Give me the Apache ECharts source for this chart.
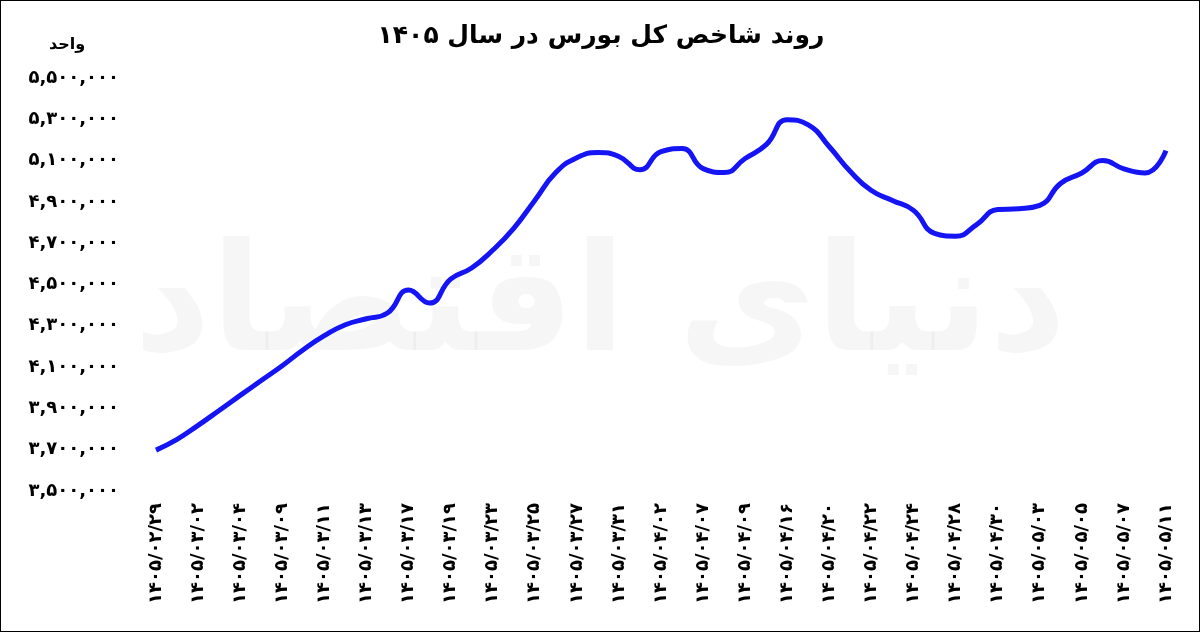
<!DOCTYPE html>
<html><head><meta charset="utf-8">
<script src="https://cdn.jsdelivr.net/npm/echarts@6/dist/echarts.min.js"></script>
<style>html,body{margin:0;padding:0;background:#fff}#c{width:1200px;height:632px;box-sizing:border-box;border:1px solid #000}</style>
</head><body><div id="c"></div>
<script>
const dateLabels = ['1405/02/29','1405/03/02','1405/03/04','1405/03/09','1405/03/11','1405/03/13','1405/03/17','1405/03/19','1405/03/23','1405/03/25','1405/03/27','1405/03/31','1405/04/02','1405/04/07','1405/04/09','1405/04/16','1405/04/20','1405/04/22','1405/04/24','1405/04/28','1405/04/30','1405/05/03','1405/05/05','1405/05/07','1405/05/11'];
const indexValues = [3698000,3750000,3818000,3890000,3963000,4035000,4107000,4184000,4252000,4305000,4334000,4362000,4473000,4410000,4526000,4580000,4666000,4772000,4907000,5042000,5114000,5139000,5120000,5056000,5143000,5158000,5061000,5042000,5110000,5177000,5298000,5273000,5167000,5047000,4955000,4907000,4859000,4748000,4734000,4790000,4863000,4867000,4883000,4990000,5040000,5100000,5060000,5040000,5148000];
const yTicks = {min:3500000,max:5500000,interval:200000};
const fa = s => String(s).replace(/\d/g, d => '۰۱۲۳۴۵۶۷۸۹'[d]);
const cats = [];
indexValues.forEach((v,i)=>cats.push(i%2===0 ? dateLabels[i/2] : ''));
const chart = echarts.init(document.getElementById('c'));
chart.setOption({
  animation:false,
  textStyle:{fontFamily:'DejaVu Sans'},
  title:{text:'روند شاخص کل بورس در سال ۱۴۰۵',left:595,top:18,textAlign:'center',textStyle:{fontSize:25,fontWeight:'bold',color:'#000',fontFamily:'DejaVu Sans'}},
  graphic:[
    {type:'text',left:'center',top:235,z:-1,style:{text:'دنیای اقتصاد',fontSize:150,fontWeight:'bold',fill:'rgba(0,0,0,0.035)',fontFamily:'DejaVu Sans'}},
    {type:'text',left:48,top:36,style:{text:'واحد',fontSize:16,fontWeight:'bold',fill:'#000',fontFamily:'DejaVu Sans'}}
  ],
  grid:{left:155,right:33,top:77,bottom:140},
  xAxis:{type:'category',data:cats,boundaryGap:false,
    axisLine:{show:false},axisTick:{show:false},
    axisLabel:{rotate:90,interval:0,margin:12,fontSize:18,fontWeight:'bold',color:'#000',formatter:v=>fa(v)}},
  yAxis:{type:'value',min:yTicks.min,max:yTicks.max,interval:yTicks.interval,
    splitLine:{show:false},axisLine:{show:false},axisTick:{show:false},
    axisLabel:{margin:37,fontSize:18,fontWeight:'bold',color:'#000',formatter:v=>fa(v.toLocaleString('en-US'))}},
  series:[{type:'line',data:indexValues,smooth:true,showSymbol:false,lineStyle:{color:'#1414f5',width:5}}]
});
</script></body></html>
